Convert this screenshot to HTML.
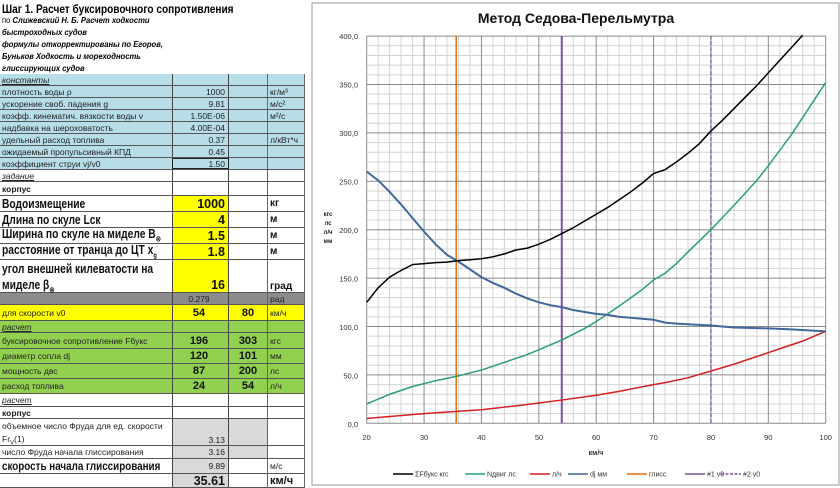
<!DOCTYPE html>
<html><head><meta charset="utf-8"><style>
body{margin:0;width:840px;height:488px;overflow:hidden;background:#fff;font-family:"Liberation Sans","DejaVu Sans",sans-serif;position:relative}
.r{position:absolute;left:0;width:305px;border-bottom:1px solid #555;box-sizing:border-box}
.c{position:absolute;top:0;bottom:0;box-sizing:border-box;white-space:nowrap;overflow:visible;display:flex;align-items:center}
.a{left:0;width:172px;padding-left:2px}
.b{left:172px;width:57px;justify-content:flex-end;padding-right:3px;border-left:1px solid #444;border-right:1px solid #444}
.cc{left:229px;width:39px;justify-content:center;border-right:1px solid #666}
.d{left:268px;width:37px;padding-left:2px;border-right:1px solid #666}
.s{font-size:8.5px;color:#222}
.big{font-size:12.5px;font-weight:bold;color:#111}
.u{text-decoration:underline;font-style:italic}
.blue{background:#b7dde8}.yel{background:#ffff00}.grn{background:#92d050}.dg{background:#8c8c8c}.lg{background:#d9d9d9}
.it{font-size:8.5px;font-style:italic;font-weight:bold;position:absolute;left:2px;transform:scaleX(.9);transform-origin:left}
.sq{display:inline-block;transform:scaleX(.82);transform-origin:left center;white-space:nowrap}
</style></head><body>
<div style="position:absolute;left:2px;top:2px;font-size:12px;font-weight:bold;transform:scaleX(.84);transform-origin:left;white-space:nowrap">Шаг 1. Расчет буксировочного сопротивления</div>
<div class="it" style="top:15px"><span style="font-weight:normal;font-style:normal">по </span>Слижевский Н. Б. Расчет ходкости</div>
<div class="it" style="top:27px">быстроходных судов</div>
<div class="it" style="top:39px">формулы откорректированы по Егоров,</div>
<div class="it" style="top:51px">Буньков Ходкость и мореходность</div>
<div class="it" style="top:63px">глиссирующих судов</div>

<div class="r blue s" style="top:74px;height:12px"><div class="c a u">константы</div><div class="c b"></div><div class="c cc"></div><div class="c d"></div></div>
<div class="r blue s" style="top:86px;height:12px"><div class="c a">плотность воды ρ</div><div class="c b">1000</div><div class="c cc"></div><div class="c d">кг/м³</div></div>
<div class="r blue s" style="top:98px;height:12px"><div class="c a">ускорение своб. падения g</div><div class="c b">9.81</div><div class="c cc"></div><div class="c d">м/с²</div></div>
<div class="r blue s" style="top:110px;height:12px"><div class="c a">коэфф. кинематич. вязкости воды ν</div><div class="c b">1.50E-06</div><div class="c cc"></div><div class="c d">м²/с</div></div>
<div class="r blue s" style="top:122px;height:12px"><div class="c a">надбавка на шероховатость</div><div class="c b">4.00E-04</div><div class="c cc"></div><div class="c d"></div></div>
<div class="r blue s" style="top:134px;height:12px"><div class="c a">удельный расход топлива</div><div class="c b">0.37</div><div class="c cc"></div><div class="c d">л/кВт*ч</div></div>
<div class="r blue s" style="top:146px;height:12px"><div class="c a">ожидаемый пропульсивный КПД</div><div class="c b">0.45</div><div class="c cc"></div><div class="c d"></div></div>
<div class="r blue s" style="top:158px;height:12px"><div class="c a">коэффициент струи vj/v0</div><div class="c b" style="border:1px solid #222">1.50</div><div class="c cc"></div><div class="c d"></div></div>
<div class="r s" style="top:170px;height:12px"><div class="c a u">задание</div><div class="c b"></div><div class="c cc"></div><div class="c d"></div></div>
<div class="r s" style="top:182px;height:14px"><div class="c a" style="font-weight:bold">корпус</div><div class="c b"></div><div class="c cc"></div><div class="c d"></div></div>
<div class="r big" style="top:196px;height:16px"><div class="c a"><span class="sq">Водоизмещение</span></div><div class="c b yel">1000</div><div class="c cc"></div><div class="c d" style="font-size:10px">кг</div></div>
<div class="r big" style="top:212px;height:16px"><div class="c a"><span class="sq">Длина по скуле Lск</span></div><div class="c b yel">4</div><div class="c cc"></div><div class="c d" style="font-size:10px">м</div></div>
<div class="r big" style="top:228px;height:16px"><div class="c a"><span class="sq">Ширина по скуле на миделе B<sub style="font-size:8px">⊗</sub></span></div><div class="c b yel">1.5</div><div class="c cc"></div><div class="c d" style="font-size:10px">м</div></div>
<div class="r big" style="top:244px;height:16px"><div class="c a"><span class="sq">расстояние от транца до ЦТ x<sub style="font-size:7px">g</sub></span></div><div class="c b yel">1.8</div><div class="c cc"></div><div class="c d" style="font-size:10px">м</div></div>
<div class="r big" style="top:260px;height:33px"><div class="c a" style="display:block;line-height:16px;padding-top:1px"><span class="sq">угол внешней килеватости на</span><br><span class="sq">миделе β<sub style="font-size:8px">⊗</sub></span></div><div class="c b yel" style="align-items:flex-end">16</div><div class="c cc"></div><div class="c d" style="font-size:10px;align-items:flex-end">град</div></div>
<div class="r dg s" style="top:293px;height:12px"><div class="c a"></div><div class="c b" style="justify-content:center">0.279</div><div class="c cc"></div><div class="c d">рад</div></div>
<div class="r yel" style="top:305px;height:16px"><div class="c a s">для скорости v0</div><div class="c b big" style="font-size:11px;justify-content:center">54</div><div class="c cc big" style="font-size:11px">80</div><div class="c d s">км/ч</div></div>
<div class="r grn s" style="top:321px;height:12px"><div class="c a u">расчет</div><div class="c b"></div><div class="c cc"></div><div class="c d"></div></div>
<div class="r grn" style="top:333px;height:16px"><div class="c a s">буксировочное сопротивление Fбукс</div><div class="c b big" style="font-size:11px;justify-content:center">196</div><div class="c cc big" style="font-size:11px">303</div><div class="c d s">кгс</div></div>
<div class="r grn" style="top:349px;height:15px"><div class="c a s">диаметр сопла dj</div><div class="c b big" style="font-size:11px;justify-content:center">120</div><div class="c cc big" style="font-size:11px">101</div><div class="c d s">мм</div></div>
<div class="r grn" style="top:364px;height:15px"><div class="c a s">мощность двс</div><div class="c b big" style="font-size:11px;justify-content:center">87</div><div class="c cc big" style="font-size:11px">200</div><div class="c d s">лс</div></div>
<div class="r grn" style="top:379px;height:15px"><div class="c a s">расход топлива</div><div class="c b big" style="font-size:11px;justify-content:center">24</div><div class="c cc big" style="font-size:11px">54</div><div class="c d s">л/ч</div></div>
<div class="r s" style="top:394px;height:13px"><div class="c a u">расчет</div><div class="c b"></div><div class="c cc"></div><div class="c d"></div></div>
<div class="r s" style="top:407px;height:12px"><div class="c a" style="font-weight:bold">корпус</div><div class="c b"></div><div class="c cc"></div><div class="c d"></div></div>
<div class="r s" style="top:419px;height:27px"><div class="c a" style="display:block;line-height:13px;padding-top:1px">объемное число Фруда для ед. скорости<br>Fr<sub style="font-size:6px">V</sub>(1)</div><div class="c b lg" style="align-items:flex-end">3.13</div><div class="c cc lg"></div><div class="c d"></div></div>
<div class="r s" style="top:446px;height:13px"><div class="c a">число Фруда начала глиссирования</div><div class="c b lg">3.16</div><div class="c cc lg"></div><div class="c d"></div></div>
<div class="r" style="top:459px;height:15px"><div class="c a big" style="font-size:12px"><span class="sq">скорость начала глиссирования</span></div><div class="c b lg s">9.89</div><div class="c cc"></div><div class="c d s">м/с</div></div>
<div class="r" style="top:474px;height:14px"><div class="c a"></div><div class="c b lg big">35.61</div><div class="c cc"></div><div class="c d big" style="font-size:11px">км/ч</div></div>

<svg style="position:absolute;left:0;top:0" width="840" height="488" viewBox="0 0 840 488">
<rect x="312" y="3" width="527" height="482" fill="#fff" stroke="#999" stroke-width="1"/>
<text x="576" y="23" font-size="14" font-weight="bold" text-anchor="middle" fill="#111">Метод Седова-Перельмутра</text>
<g transform="translate(366.7,423.3) scale(5.7375,-0.968) translate(-20,0)" fill="none">
<path stroke="#d4d4d4" vector-effect="non-scaling-stroke" d="M22,0V400M24,0V400M26,0V400M28,0V400M32,0V400M34,0V400M36,0V400M38,0V400M42,0V400M44,0V400M46,0V400M48,0V400M52,0V400M54,0V400M56,0V400M58,0V400M62,0V400M64,0V400M66,0V400M68,0V400M72,0V400M74,0V400M76,0V400M78,0V400M82,0V400M84,0V400M86,0V400M88,0V400M92,0V400M94,0V400M96,0V400M98,0V400
M20,10H100M20,20H100M20,30H100M20,40H100M20,60H100M20,70H100M20,80H100M20,90H100M20,110H100M20,120H100M20,130H100M20,140H100M20,160H100M20,170H100M20,180H100M20,190H100M20,210H100M20,220H100M20,230H100M20,240H100M20,260H100M20,270H100M20,280H100M20,290H100M20,310H100M20,320H100M20,330H100M20,340H100M20,360H100M20,370H100M20,380H100M20,390H100"/>
<path stroke="#8a8a8a" vector-effect="non-scaling-stroke" d="M20,0V400M30,0V400M40,0V400M50,0V400M60,0V400M70,0V400M80,0V400M90,0V400M100,0V400M20,0H100M20,50H100M20,100H100M20,150H100M20,200H100M20,250H100M20,300H100M20,350H100M20,400H100"/>
<path stroke="#e46c0a" stroke-width="1.5" vector-effect="non-scaling-stroke" d="M35.6,0V400"/>
<path stroke="#7f4fa0" stroke-width="2" vector-effect="non-scaling-stroke" d="M54,0V400"/>
<path stroke="#7f4fa0" stroke-width="1.3" stroke-dasharray="4,2" vector-effect="non-scaling-stroke" d="M80,0V400"/>
<polyline stroke="#d42020" stroke-width="1.5" vector-effect="non-scaling-stroke" points="20,5 30,10 36,12.5 40,14 46,18 50,21 54,24 60,29 64,33 70,40 72,42 76,47 80,54 84,61 88,69 92,77 96,85 100,95"/>
<polyline stroke="#2aa070" stroke-width="1.5" vector-effect="non-scaling-stroke" points="20,20 24,30 28,38 30,41 32,44 36,49 40,55 44,63 48,71 50,76 54,86 58,98 60,105 64,121 68,138 70,148 72,155 74,165 76,177 80,200 84,225 88,251 90,266 94,298 96,316 100,352"/>
<polyline stroke="#40689a" stroke-width="2" vector-effect="non-scaling-stroke" points="20,260 22,251 24,239 26,226 28,212 30,198 32,185 34,174 36,167 38,159 40,151 42,145 44,140 46,134 48,129 50,125 52,122 54,120 56,117 58,115 60,113 62,112 64,110 66,109 68,108 70,107 72,104 74,103 80,101 84,99 90,98 94,97 100,95"/>
<polyline stroke="#000" stroke-width="1.5" vector-effect="non-scaling-stroke" points="20,125 22,140 24,151 26,158 28,164 30,165 32,166 34,166.5 36,168 38,169 40,170 42,172 44,175 46,179 48,181 50,185 52,190 54,196 56,202 58,209 60,216 62,223 64,231 66,239 68,248 70,258 72,262 74,270 76,279 78,289 80,302 82,313 84,325 86,337 88,349 90,362 92,375 94,388 96,401"/>
</g>
<g font-size="7.5" fill="#333" text-anchor="end">
<text x="358" y="39">400,0</text><text x="358" y="87.5">350,0</text><text x="358" y="136">300,0</text><text x="358" y="184.5">250,0</text><text x="358" y="233">200,0</text><text x="358" y="281.5">150,0</text><text x="358" y="330">100,0</text><text x="358" y="378.5">50,0</text><text x="358" y="427">0,0</text>
</g>
<g font-size="7.5" fill="#333" text-anchor="middle">
<text x="366.7" y="440">20</text><text x="424" y="440">30</text><text x="481.5" y="440">40</text><text x="539" y="440">50</text><text x="596.2" y="440">60</text><text x="653.6" y="440">70</text><text x="711" y="440">80</text><text x="768.3" y="440">90</text><text x="825.7" y="440">100</text>
<text x="596" y="455" font-weight="bold" font-size="7">км/ч</text>
</g>
<g font-size="6" font-weight="bold" fill="#222" text-anchor="middle">
<text x="328" y="216">кгс</text><text x="328" y="225">лс</text><text x="328" y="234">л/ч</text><text x="328" y="243">мм</text>
</g>
<g font-size="7" fill="#333" stroke-width="1.5">
<line x1="393" y1="474" x2="413" y2="474" stroke="#000"/><text x="415" y="476.5">ΣFбукс кгс</text>
<line x1="465" y1="474" x2="485" y2="474" stroke="#2aa070"/><text x="487" y="476.5">Nдвиг лс</text>
<line x1="530" y1="474" x2="550" y2="474" stroke="#d42020"/><text x="552" y="476.5">л/ч</text>
<line x1="568" y1="474" x2="588" y2="474" stroke="#40689a"/><text x="590" y="476.5">dj мм</text>
<line x1="627" y1="474" x2="647" y2="474" stroke="#e46c0a"/><text x="649" y="476.5">глисс</text>
<line x1="685" y1="474" x2="705" y2="474" stroke="#7f4fa0"/><text x="707" y="476.5">#1 v0</text>
<line x1="721" y1="474" x2="741" y2="474" stroke="#7f4fa0" stroke-dasharray="3,1.5"/><text x="743" y="476.5">#2 v0</text>
</g>
</svg>
</body></html>
